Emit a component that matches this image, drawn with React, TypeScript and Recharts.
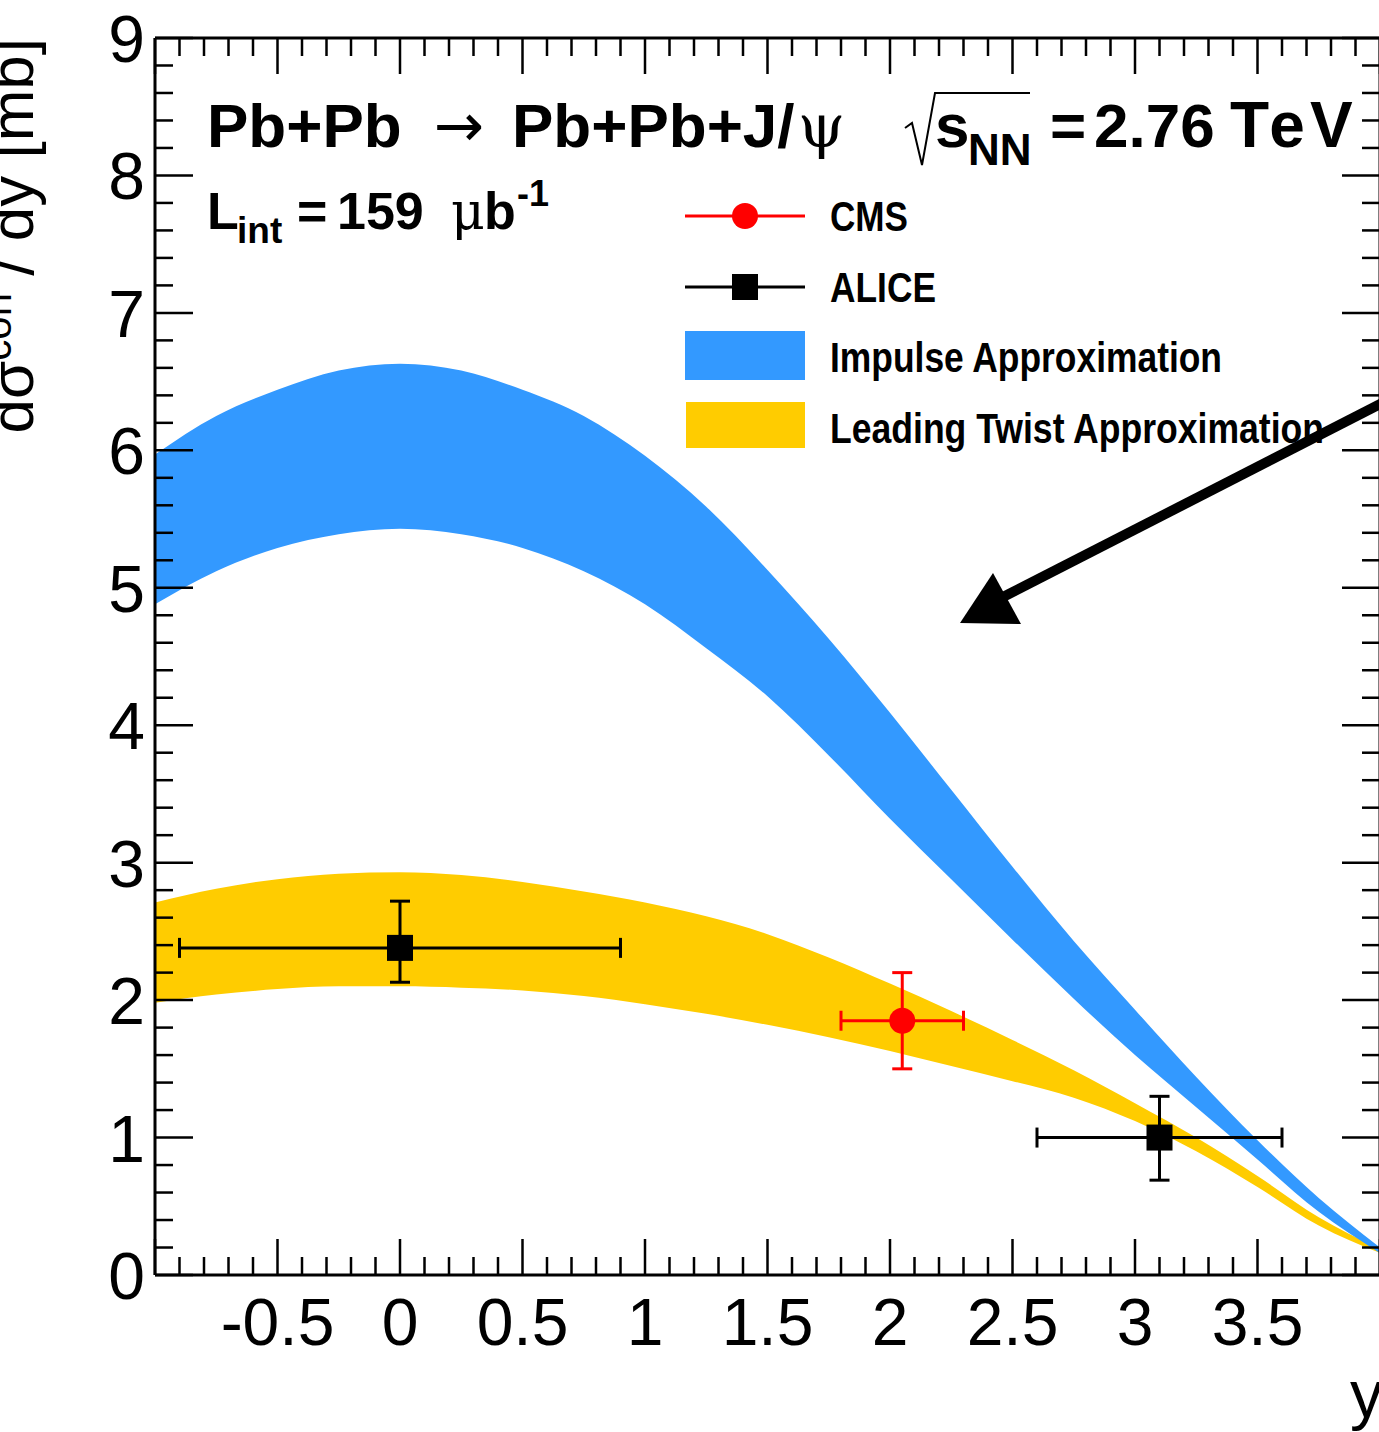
import React from 'react';
import { ComposedChart, Area, Scatter, XAxis, YAxis, ErrorBar, Legend } from 'recharts';

// ---- data ----
const rapidity = [-1, -0.75, -0.5, -0.25, 0, 0.25, 0.5, 0.75, 1, 1.25, 1.5, 1.75, 2, 2.25, 2.5, 2.75, 3, 3.25, 3.5, 3.75, 4];
const impulseHigh = [5.97, 6.25, 6.44, 6.58, 6.63, 6.58, 6.44, 6.25, 5.96, 5.59, 5.13, 4.63, 4.09, 3.53, 2.97, 2.43, 1.93, 1.44, 0.98, 0.56, 0.2];
const impulseLow = [4.88, 5.12, 5.29, 5.39, 5.43, 5.39, 5.29, 5.12, 4.88, 4.56, 4.21, 3.78, 3.32, 2.88, 2.44, 2.01, 1.6, 1.22, 0.84, 0.46, 0.16];
const twistHigh = [2.71, 2.81, 2.88, 2.92, 2.93, 2.91, 2.86, 2.79, 2.71, 2.61, 2.48, 2.31, 2.12, 1.92, 1.71, 1.49, 1.25, 1.0, 0.72, 0.42, 0.19];
const twistLow = [1.98, 2.04, 2.08, 2.1, 2.1, 2.09, 2.07, 2.03, 1.97, 1.9, 1.82, 1.73, 1.63, 1.52, 1.41, 1.29, 1.12, 0.9, 0.64, 0.36, 0.16];

const aliceX = [0, 3.1];
const aliceY = [2.38, 1.0];
const aliceXErr = [0.9, 0.5];
const aliceYErrLow = [0.25, 0.31];
const aliceYErrHigh = [0.34, 0.3];

const cmsX = [2.05];
const cmsY = [1.85];
const cmsXErr = [0.25];
const cmsYErrLow = [0.35];
const cmsYErrHigh = [0.35];

const xLabelTicks = [-0.5, 0, 0.5, 1, 1.5, 2, 2.5, 3, 3.5];
const yLabelTicks = [0, 1, 2, 3, 4, 5, 6, 7, 8, 9];

const legendNames = ['CMS', 'ALICE', 'Impulse Approximation', 'Leading Twist Approximation'];
const legendTextWidths = [78, 106, 392, 494];

// ---- derived tables ----
const bandData = rapidity.map((x, i) => ({
  x,
  impulse: [impulseLow[i], impulseHigh[i]],
  twist: [twistLow[i], twistHigh[i]],
}));
const aliceData = aliceX.map((x, i) => ({
  x,
  y: aliceY[i],
  ex: aliceXErr[i],
  ey: [aliceYErrLow[i], aliceYErrHigh[i]],
}));
const cmsData = cmsX.map((x, i) => ({
  x,
  y: cmsY[i],
  ex: cmsXErr[i],
  ey: [cmsYErrLow[i], cmsYErrHigh[i]],
}));

const xTicks = Array.from({ length: 51 }, (_, i) => Math.round((-1 + i * 0.1) * 10) / 10);
const yTicks = Array.from({ length: 46 }, (_, i) => Math.round(i * 0.2 * 10) / 10);

const SANS = "'Liberation Sans', Arial, Helvetica, sans-serif";
const SERIF = "'DejaVu Serif', 'Liberation Serif', serif";
const DEJAVU = "'DejaVu Sans', sans-serif";

const near = (a: number, b: number) => Math.abs(a - b) < 1e-6;
const isMajorX = (v: number) => near(v * 2, Math.round(v * 2));
const isMajorY = (v: number) => near(v, Math.round(v));

const TICK_W = 2.5;

const BottomTick = (p: any) => {
  const v = p.payload.value;
  const major = isMajorX(v);
  const labelled = xLabelTicks.some((t) => near(t, v));
  return (
    <g>
      <line x1={p.x} x2={p.x} y1={p.y} y2={p.y - (major ? 36 : 18)} stroke="#000" strokeWidth={TICK_W} />
      {labelled && (
        <text x={p.x} y={p.y + 70} textAnchor="middle" fontSize={66} fontFamily={SANS} fill="#000">
          {String(v)}
        </text>
      )}
    </g>
  );
};
const TopTick = (p: any) => {
  const v = p.payload.value;
  const major = isMajorX(v);
  return <line x1={p.x} x2={p.x} y1={p.y} y2={p.y + (major ? 36 : 18)} stroke="#000" strokeWidth={TICK_W} />;
};
const LeftTick = (p: any) => {
  const v = p.payload.value;
  const major = isMajorY(v);
  const labelled = yLabelTicks.some((t) => near(t, v));
  return (
    <g>
      <line x1={p.x} x2={p.x + (major ? 38 : 18)} y1={p.y} y2={p.y} stroke="#000" strokeWidth={TICK_W} />
      {labelled && (
        <text x={145} y={p.y + 24} textAnchor="end" fontSize={66} fontFamily={SANS} fill="#000">
          {String(v)}
        </text>
      )}
    </g>
  );
};
const RightTick = (p: any) => {
  const v = p.payload.value;
  const major = isMajorY(v);
  return <line x1={p.x} x2={p.x - (major ? 38 : 18)} y1={p.y} y2={p.y} stroke="#000" strokeWidth={TICK_W} />;
};

const SquareShape = (p: any) => (
  <rect x={p.cx - 13} y={p.cy - 13} width={26} height={26} fill="#000" />
);
const CircleShape = (p: any) => <circle cx={p.cx} cy={p.cy} r={13} fill="#FF0000" />;

const LegendText = ({ i, y }: { i: number; y: number }) => (
  <text
    x={150}
    y={y}
    fontSize={42}
    fontWeight="bold"
    fontFamily={SANS}
    fill="#000"
    textLength={legendTextWidths[i]}
    lengthAdjust="spacingAndGlyphs"
  >
    {legendNames[i]}
  </text>
);

const renderLegend = () => (
  <svg width={720} height={290} style={{ display: 'block', overflow: 'visible' }}>
    <line x1={5} x2={125} y1={36} y2={36} stroke="#FF0000" strokeWidth={3} />
    <circle cx={65} cy={36} r={13} fill="#FF0000" />
    <LegendText i={0} y={51} />
    <line x1={5} x2={125} y1={107} y2={107} stroke="#000" strokeWidth={3} />
    <rect x={52} y={94} width={26} height={26} fill="#000" />
    <LegendText i={1} y={122} />
    <rect x={5} y={151} width={120} height={49} fill="#3399FF" />
    <LegendText i={2} y={192} />
    <rect x={6} y={222} width={119} height={46} fill="#FFCC00" />
    <LegendText i={3} y={263} />
  </svg>
);

export default function App() {
  return (
    <div style={{ position: 'fixed', left: 0, top: 0, width: 1379, height: 1432, overflow: 'hidden', background: '#fff' }}>
      <ComposedChart width={1420} height={1432} data={bandData} margin={{ top: 0, right: 0, bottom: 0, left: 0 }}>
        <XAxis
          xAxisId="b"
          dataKey="x"
          type="number"
          domain={[-1, 4]}
          allowDataOverflow
          ticks={xTicks}
          interval={0}
          height={157}
          tickSize={0}
          tickMargin={0}
          tickLine={false}
          axisLine={{ stroke: '#000', strokeWidth: 3 }}
          tick={(p: any) => <BottomTick {...p} />}
        />
        <XAxis
          xAxisId="t"
          orientation="top"
          dataKey="x"
          type="number"
          domain={[-1, 4]}
          allowDataOverflow
          ticks={xTicks}
          interval={0}
          height={38}
          tickSize={0}
          tickMargin={0}
          tickLine={false}
          axisLine={{ stroke: '#000', strokeWidth: 3 }}
          tick={(p: any) => <TopTick {...p} />}
        />
        <YAxis
          yAxisId="l"
          type="number"
          domain={[0, 9]}
          allowDataOverflow
          ticks={yTicks}
          interval={0}
          width={155}
          tickSize={0}
          tickMargin={0}
          tickLine={false}
          axisLine={{ stroke: '#000', strokeWidth: 3 }}
          tick={(p: any) => <LeftTick {...p} />}
        />
        <YAxis
          yAxisId="r"
          orientation="right"
          type="number"
          domain={[0, 9]}
          allowDataOverflow
          ticks={yTicks}
          interval={0}
          width={40}
          tickSize={0}
          tickMargin={0}
          tickLine={false}
          axisLine={{ stroke: '#000', strokeWidth: 3 }}
          tick={(p: any) => <RightTick {...p} />}
        />
        <Area
          xAxisId="b"
          yAxisId="l"
          dataKey="twist"
          type="monotone"
          stroke="none"
          fill="#FFCC00"
          fillOpacity={1}
          dot={false}
          activeDot={false}
          isAnimationActive={false}
        />
        <Area
          xAxisId="b"
          yAxisId="l"
          dataKey="impulse"
          type="monotone"
          stroke="none"
          fill="#3399FF"
          fillOpacity={1}
          dot={false}
          activeDot={false}
          isAnimationActive={false}
        />
        <Scatter xAxisId="b" yAxisId="l" data={aliceData} dataKey="y" shape={(p: any) => <SquareShape {...p} />} isAnimationActive={false}>
          <ErrorBar dataKey="ex" direction="x" width={10} strokeWidth={3} stroke="#000" />
          <ErrorBar dataKey="ey" direction="y" width={10} strokeWidth={3} stroke="#000" />
        </Scatter>
        <Scatter xAxisId="b" yAxisId="l" data={cmsData} dataKey="y" shape={(p: any) => <CircleShape {...p} />} isAnimationActive={false}>
          <ErrorBar dataKey="ex" direction="x" width={10} strokeWidth={3} stroke="#FF0000" />
          <ErrorBar dataKey="ey" direction="y" width={10} strokeWidth={3} stroke="#FF0000" />
        </Scatter>
        <Legend
          layout="vertical"
          align="center"
          verticalAlign="middle"
          content={renderLegend}
          wrapperStyle={{ position: 'absolute', left: 680, top: 180, width: 720, height: 290 }}
        />
      </ComposedChart>
      <svg
        width={1379}
        height={1432}
        style={{ position: 'absolute', left: 0, top: 0, pointerEvents: 'none' }}
      >
        {/* title */}
        <g fontFamily={SANS} fill="#000">
          <text x={207} y={147} fontSize={62} fontWeight="bold">Pb+Pb</text>
          <text x={434} y={146} fontSize={60} fontFamily={DEJAVU}>→</text>
          <text x={512} y={147} fontSize={62} fontWeight="bold">Pb+Pb+J/</text>
          <text x={798} y={147} fontSize={60} fontFamily={SERIF}>ψ</text>
          <path d="M905,128 L912,123 L922,165 L935,93 L1030,93" fill="none" stroke="#000" strokeWidth={2} />
          <text x={935} y={147} fontSize={62} fontWeight="bold">s</text>
          <text x={968} y={165} fontSize={44} fontWeight="bold">NN</text>
          <text x={1050} y={147} fontSize={62} fontWeight="bold">=</text>
          <text x={1094} y={147} fontSize={62} fontWeight="bold">2.76</text>
          <text x={1230} y={147} fontSize={64} fontWeight="bold" letterSpacing={5}>TeV</text>

          <text x={207} y={229} fontSize={52} fontWeight="bold">L</text>
          <text x={237} y={243} fontSize={37} fontWeight="bold">int</text>
          <text x={297} y={229} fontSize={52} fontWeight="bold">=</text>
          <text x={337} y={229} fontSize={52} fontWeight="bold">159</text>
          <text x={451} y={229} fontSize={52} fontFamily={SERIF}>μ</text>
          <text x={484} y={229} fontSize={52} fontWeight="bold">b</text>
          <text x={517} y={206} fontSize={36} fontWeight="bold">-1</text>
        </g>
        {/* arrow */}
        <line x1={1400} y1={394} x2={1003} y2={597} stroke="#000" strokeWidth={10} />
        <polygon points="960,623 993,573 1021,624" fill="#000" />
        {/* axis titles */}
        <text transform="rotate(-90)" x={-38} y={33} textAnchor="end" fontSize={62} fontFamily={SANS} fill="#000">
          dσ<tspan dy={-22} fontSize={42}>coh</tspan>
          <tspan dy={22}> / dy [mb]</tspan>
        </text>
        <text x={1350} y={1417} fontSize={66} fontFamily={SANS} fill="#000">y</text>
      </svg>
    </div>
  );
}
